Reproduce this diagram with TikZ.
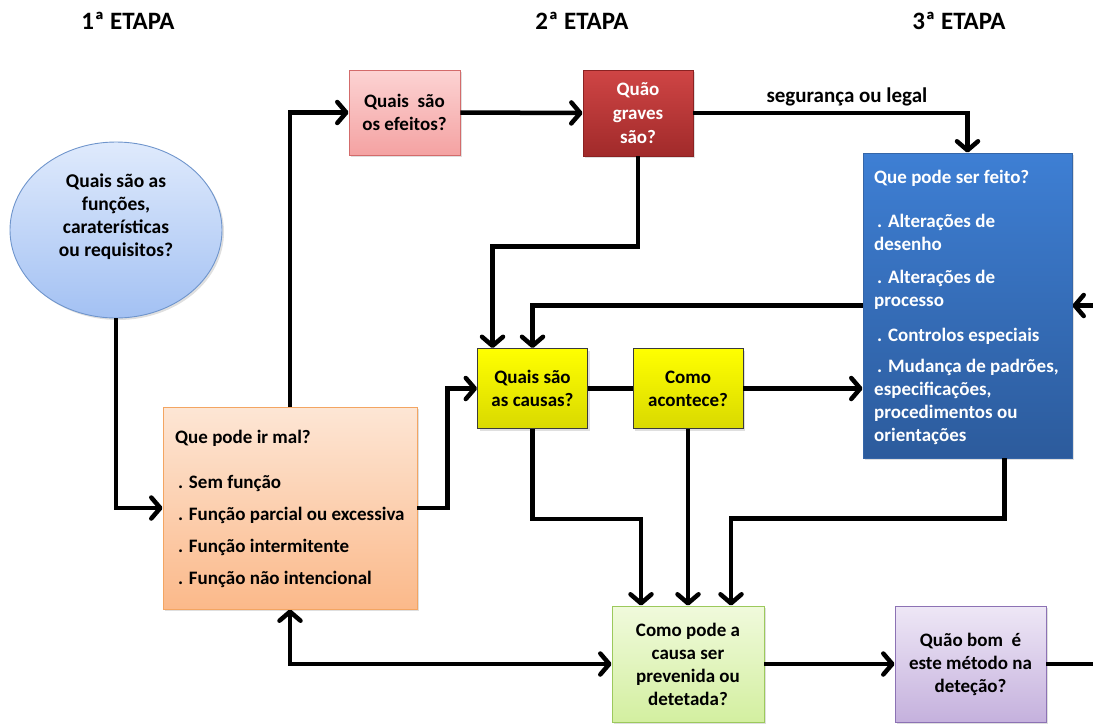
\documentclass[tikz,border=0pt]{standalone}
\usepackage{fontspec}
\setmainfont{Carlito}
\usetikzlibrary{arrows.meta,shapes.geometric,shadows,calc}
\definecolor{circtop}{HTML}{DFEAFC}
\definecolor{circbot}{HTML}{A3C1F3}
\definecolor{circline}{HTML}{6F95CC}
\definecolor{ortop}{HTML}{FDE6D5}
\definecolor{orbot}{HTML}{FBB98A}
\definecolor{orline}{HTML}{F3A562}
\definecolor{pktop}{HTML}{FCD3D3}
\definecolor{pkbot}{HTML}{F4A2A2}
\definecolor{pkline}{HTML}{D36B6B}
\definecolor{rdtop}{HTML}{CF4545}
\definecolor{rdbot}{HTML}{A12A2A}
\definecolor{rdline}{HTML}{8B2222}
\definecolor{yltop}{HTML}{FFFF00}
\definecolor{ylbot}{HTML}{D9D900}
\definecolor{ylline}{HTML}{3A3A3A}
\definecolor{bltop}{HTML}{3E7FD4}
\definecolor{blbot}{HTML}{2C5B9C}
\definecolor{blline}{HTML}{3566A8}
\definecolor{grtop}{HTML}{F0FADC}
\definecolor{grbot}{HTML}{D3EFA0}
\definecolor{grline}{HTML}{9CC95C}
\definecolor{putop}{HTML}{EEE7F6}
\definecolor{pubot}{HTML}{C5B1DD}
\definecolor{puline}{HTML}{8C72B4}
\begin{document}
\begin{tikzpicture}[x=1pt,y=-1pt,
  fs/.style={font=\fontsize{19}{23}\selectfont\bfseries},
  hd/.style={font=\fontsize{25}{30}\selectfont\bfseries},
  box/.style={rectangle, draw, line width=0.9pt, inner sep=0pt, align=center, fs,
    drop shadow={opacity=0.25, shadow xshift=2pt, shadow yshift=-2pt}},
  txt/.style={anchor=west, inner sep=0pt, align=left},
  conn/.style={line width=4.5pt, line join=miter, black},
  tip/.tip={Straight Barb[length=9pt,width=21pt,round]},
  arr/.style={conn, -tip},
  dbl/.style={conn, tip-tip},
  plain/.style={conn}
]
\useasboundingbox (0,0) rectangle (1093,724);

% headers
\node[hd] (h1) at (128,21) {1ª ETAPA};
\node[hd] (h2) at (582,21) {2ª ETAPA};
\node[hd] (h3) at (959,21) {3ª ETAPA};

% nodes
\node[ellipse, draw=circline, line width=0.9pt, top color=circtop, bottom color=circbot,
  minimum width=212pt, minimum height=176pt, inner sep=0pt, align=center,
  font=\fontsize{19.5}{23}\selectfont\bfseries,
  drop shadow={opacity=0.25, shadow xshift=2pt, shadow yshift=-2pt}]
  (circ) at (116,230) {Quais são as\\funções,\\caraterísticas\\ou requisitos?\\[6pt]};

\node[box, draw=orline, top color=ortop, bottom color=orbot,
  minimum width=254pt, minimum height=202pt] (orange) at (290,508) {};
\node[txt, font=\fontsize{19}{32}\selectfont\bfseries] (orangetxt) at (175,509)
  {Que pode ir mal?\\[13pt]
  \hspace*{3pt}. Sem função\\
  \hspace*{3pt}. Função parcial ou excessiva\\
  \hspace*{3pt}. Função intermitente\\
  \hspace*{3pt}. Função não intencional};

\node[box, draw=pkline, top color=pktop, bottom color=pkbot,
  minimum width=111pt, minimum height=85pt]
  (pink) at (404.5,112.5) {Quais\ \ são\\os efeitos?};

\node[box, draw=rdline, top color=rdtop, bottom color=rdbot, text=white,
  minimum width=110pt, minimum height=86pt, font=\fontsize{19}{24}\selectfont\bfseries]
  (red) at (638,113) {Quão\\graves\\são?};

\node[box, draw=blline, top color=bltop, bottom color=blbot,
  minimum width=209pt, minimum height=305pt] (blue) at (967.5,305.5) {};
\node[txt, fs, text=white] (bluetxt) at (874,307)
  {Que pode ser feito?\\[21pt]
  \hspace*{3pt}. Alterações de\\desenho\\[10pt]
  \hspace*{3pt}. Alterações de\\processo\\[12pt]
  \hspace*{3pt}. Controlos especiais\\[8pt]
  \hspace*{3pt}. Mudança de padrões,\\especificações,\\procedimentos ou\\orientações};

\node[box, draw=ylline, top color=yltop, bottom color=ylbot,
  minimum width=110pt, minimum height=80pt]
  (y1) at (532.5,388.5) {Quais são\\as causas?};

\node[box, draw=ylline, top color=yltop, bottom color=ylbot,
  minimum width=110pt, minimum height=80pt]
  (y2) at (688,388.5) {Como\\acontece?};

\node[box, draw=grline, top color=grtop, bottom color=grbot,
  minimum width=152pt, minimum height=116pt]
  (green) at (688,664) {Como pode a\\causa ser\\prevenida ou\\detetada?};

\node[box, draw=puline, top color=putop, bottom color=pubot,
  minimum width=151pt, minimum height=116pt]
  (purple) at (970.5,664) {Quão bom\ \ é\\este método na\\deteção?};

% helper coordinates
\coordinate (y1a) at ([xshift=-40pt]y1.north);
\coordinate (g1) at ([xshift=-47pt]green.north);
\coordinate (g3) at ([xshift=43pt]green.north);
\coordinate (bsouth) at ([xshift=37pt]blue.south);
\coordinate (redge) at (1093,305.5);
\coordinate (bedge) at (1093,664);

% connectors
\draw[arr] (circ.south) |- (orange.west);
\draw[arr] (orange.north) |- (pink.west);
\draw[arr] (pink.east) -- (red.west);
\draw[arr] (red.east) -| node[pos=0.28, above=1pt, font=\fontsize{21}{25}\selectfont\bfseries] (lbl) {segurança ou legal} (blue.north);
\draw[arr] (red.south) -- ++(0,90) -| (y1a);
\draw[arr] (blue.west) -| (y1.north);
\draw[arr] (redge) -- (blue.east);
\draw[plain] (y1.east) -- (y2.west);
\draw[arr] (y2.east) -- (y2.east -| blue.west);
\draw[arr] (orange.east) -- ++(30,0) |- (y1.west);
\draw[arr] (y1.south) -- ++(0,90) -| (g1);
\draw[arr] (y2.south) -- (green.north);
\draw[arr] (bsouth) -- ++(0,60) -| (g3);
\draw[dbl] (orange.south) |- (green.west);
\draw[arr] (green.east) -- (purple.west);
\draw[plain] (purple.east) -- (bedge);
\end{tikzpicture}
\end{document}
